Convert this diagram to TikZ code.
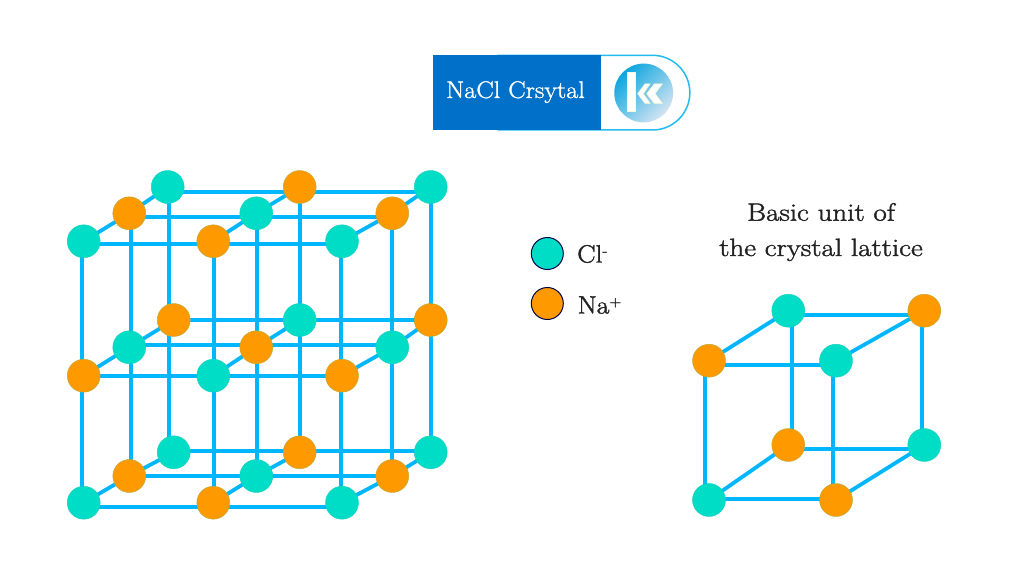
\documentclass[tikz,border=0pt]{standalone}
\usepackage{fontspec}
\newfontfamily\capfont[FakeStretch=1.16,FakeBold=1.6]{Latin Modern Roman}
\newfontfamily\titlefont[FakeStretch=1.09,FakeBold=1.2]{Latin Modern Roman}
\newfontfamily\keyfont[FakeStretch=1.1,FakeBold=1.6]{Latin Modern Roman}
\usetikzlibrary{backgrounds}
\definecolor{bond}{HTML}{00B7FF}
\definecolor{teal}{HTML}{00DDC6}
\definecolor{amber}{HTML}{FF9900}
\definecolor{logoblue}{HTML}{0070C8}
\definecolor{logocyan}{HTML}{22BDEE}
\definecolor{inkdark}{HTML}{222222}
\definecolor{marklight}{HTML}{F4FBD8}
\definecolor{discdark}{HTML}{0AA6DF}
\definecolor{discmid}{HTML}{3DB2E2}
\definecolor{discpale}{HTML}{D4E4F2}
\tikzset{
  ion/.style={circle,minimum size=33pt,inner sep=0pt,outer sep=0pt,line width=.4pt},
  cl/.style={ion,fill=teal,draw=teal!85!gray},
  na/.style={ion,fill=amber,draw=amber!70!teal},
  keyion/.style={circle,minimum size=32pt,inner sep=0pt,line width=1pt,draw=black!70!blue},
  bondline/.style={bond,line width=4.2pt},
  depthline/.style={bond,line width=3.8pt},
  caption/.style={text=inkdark,anchor=base,inner sep=0pt,font=\capfont\fontsize{25}{30}\selectfont},
  keytext/.style={text=inkdark,anchor=base west,inner sep=0pt,font=\keyfont\fontsize{25}{28}\selectfont},
  logomark/.style={fill=white,draw=marklight,line width=.6pt}
}
\begin{document}
\begin{tikzpicture}[x=1pt,y=-1pt]
\useasboundingbox (0,0) rectangle (1024,577);
% big lattice
\foreach \n/\t/\px/\py in {
 a1/cl/83.7/241.3,a2/na/213.3/241.3,a3/cl/342/241.3,
 b1/na/129.3/213.3,b2/cl/256.3/213.3,b3/na/392.3/213.3,
 c1/cl/167.7/187,c2/na/299.7/187,c3/cl/430.7/187,
 d1/na/83.7/375.7,d2/cl/213.3/375.7,d3/na/342/375.7,
 e1/cl/129.3/347.3,e2/na/256.3/347.3,e3/cl/392.3/347.3,
 f1/na/173.7/320,f2/cl/299.7/320,f3/na/430.7/320,
 g1/cl/83.7/502.7,g2/na/213.3/502.7,g3/cl/342/502.7,
 h1/na/129.3/476,h2/cl/256.3/476,h3/na/392.3/476,
 i1/cl/173.7/452.3,i2/na/299.7/452.3,i3/cl/430.7/452.3}
  \node[\t] (\n) at (\px,\py) {};
% unit cell
\foreach \n/\t/\px/\py in {
 u1/na/709/360.7,u2/cl/836/360.7,u3/cl/788.3/310.7,u4/na/924.3/310.7,
 u5/cl/709/500,u6/na/836/500,u7/na/788.3/445,u8/cl/924.3/445}
  \node[\t] (\n) at (\px,\py) {};
\begin{scope}[on background layer]
 % horizontal bonds: shifted to the level the reference prints them
 \foreach \p/\r/\d in {a1/a3/3,b1/b3/3.4,c1/c3/5,d1/d3/0.3,e1/e3/-2.3,f1/f3/0,g1/g3/4,h1/h3/0,i1/i3/-1.6}
  \draw[bondline] ([yshift=-\d pt]\p.center) -- ([yshift=-\d pt]\r.center);
 % depth bonds
 \foreach \p/\q/\r in {a1/b1/c1,a2/b2/c2,a3/b3/c3,d1/e1/f1,d2/e2/f2,d3/e3/f3,g1/h1/i1,g2/h2/i2,g3/h3/i3}
  \draw[depthline] (\p.center) -- (\q.center) -- (\r.center);
 % vertical bonds
 \foreach \p/\r/\d in {a1/g1/-1.4,a2/g2/0.7,a3/g3/-1,b1/h1/1.7,b2/h2/0.4,b3/h3/0,c2/i2/0,c3/i3/0.6}
  \draw[bondline] ([xshift=\d pt]\p.center) -- ([xshift=\d pt]\r.center);
 \draw[bondline] ([xshift=1pt]c1.center) -- ([xshift=1pt]c1.center |- i1.center);
 % unit cell bonds
 \foreach \p/\r/\d in {u1/u2/4.3,u3/u4/4,u5/u6/-0.7,u7/u8/4.3}
  \draw[bondline] ([yshift=-\d pt]\p.center) -- ([yshift=-\d pt]\r.center);
 \foreach \p/\r/\d in {u1/u5/-4,u2/u6/-2.7,u3/u7/4,u4/u8/-2.7}
  \draw[bondline] ([xshift=\d pt]\p.center) -- ([xshift=\d pt]\r.center);
 \draw[depthline] (u1.center) -- (u3.center) (u2.center) -- (u4.center) (u5.center) -- (u7.center) (u6.center) -- (u8.center);
\end{scope}
% legend
\node[keyion,fill=teal] (k1) at (547.3,253.5) {};
\node[keyion,fill=amber] (k2) at (547.3,303.5) {};
\node[keytext] (t1) at (577,262.5) {Cl\raisebox{7pt}{\fontsize{15}{15}\selectfont -}};
\node[keytext] (t2) at (577.5,313.5) {Na\raisebox{7pt}{\fontsize{15}{15}\selectfont +}};
% caption
\node[caption] (cap1) at (821,220.7) {Basic unit of};
\node[caption] (cap2) at (821,256) {the crystal lattice};
% banner
\path[draw=logocyan,line width=1.5pt,fill=white] (498,55.3) -- (652.5,55.3) arc[start angle=-90,end angle=90,radius=37.35,y=-1pt] -- (498,130) -- cycle;
\fill[logoblue] (432.7,55.3) rectangle (601,130);
\node[text=white,anchor=base,inner sep=0pt,font=\titlefont\fontsize{24}{28}\selectfont] (title) at (515.5,98) {NaCl Crsytal};
\shade[top color=discdark,middle color=discmid,bottom color=discpale,shading angle=45] (643.7,93) circle[radius=29.4];
\path[logomark] (627.7,72.3) rectangle (635,111.7);
\path[logomark] (637.7,93.7) -- (645,84) -- (650,84) -- (643.3,93.7) -- (650,103.3) -- (645,103.3) -- cycle;
\path[logomark] (646.7,93.7) -- (654.3,84) -- (662.3,84) -- (655,93.7) -- (662.3,103.3) -- (654.3,103.3) -- cycle;
\end{tikzpicture}
\end{document}
